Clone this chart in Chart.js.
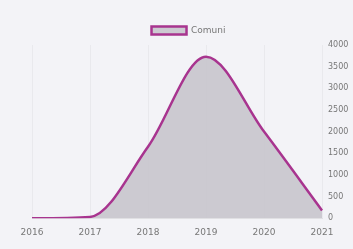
<!DOCTYPE html>
<html>
<head>
<meta charset="utf-8">
<script src="https://cdn.jsdelivr.net/npm/chart.js@4"></script>
<style>
html,body{margin:0;padding:0;background:#f3f3f7;}
#wrap{width:353px;height:249px;position:relative;}
</style>
</head>
<body>
<div id="wrap"><canvas id="c" width="353" height="249"></canvas></div>
<script>
const categories = ["2016", "2017", "2018", "2019", "2020", "2021"];
const seriesName = "Comuni";
const comuni = [0, 30, 1650, 3730, 2000, 180];
const yTicks = [0, 500, 1000, 1500, 2000, 2500, 3000, 3500, 4000];

new Chart(document.getElementById('c'), {
  type: 'line',
  data: {
    labels: categories,
    datasets: [{
      label: seriesName,
      data: comuni,
      yAxisID: 'y',
      borderColor: '#a8348f',
      backgroundColor: 'rgba(196,194,202,0.85)',
      borderWidth: 2.5,
      fill: 'origin',
      pointRadius: 0,
      cubicInterpolationMode: 'monotone'
    }]
  },
  options: {
    responsive: false,
    animation: false,
    layout: { padding: { left: 24, right: 0, top: 21, bottom: 2 } },
    plugins: {
      legend: {
        display: true,
        position: 'top',
        labels: {
          boxWidth: 35,
          boxHeight: 8,
          padding: 5,
          color: '#777',
          font: { size: 9, family: 'DejaVu Sans', lineHeight: 1 }
        }
      },
      tooltip: { enabled: false }
    },
    scales: {
      x: {
        offset: false,
        grid: { color: 'rgba(0,0,0,0.04)', drawTicks: false },
        border: { color: 'rgba(0,0,0,0.08)' },
        ticks: { color: '#777', font: { size: 9, family: 'DejaVu Sans' }, padding: 9, maxRotation: 0 }
      },
      spacer: {
        type: 'linear',
        position: 'left',
        afterFit: (axis) => { axis.width = 8; },
        grid: { display: false, drawTicks: false },
        border: { display: false },
        ticks: { display: false }
      },
      y: {
        position: 'right',
        min: 0,
        max: 4000,
        afterBuildTicks: (axis) => { axis.ticks = yTicks.map(v => ({ value: v })); },
        afterFit: (axis) => { axis.width = 31; },
        grid: { display: false, drawTicks: false },
        border: { display: false },
        ticks: { color: '#777', font: { size: 8, family: 'DejaVu Sans' }, padding: 6, callback: (v) => String(v) }
      }
    }
  }
});
</script>
</body>
</html>
